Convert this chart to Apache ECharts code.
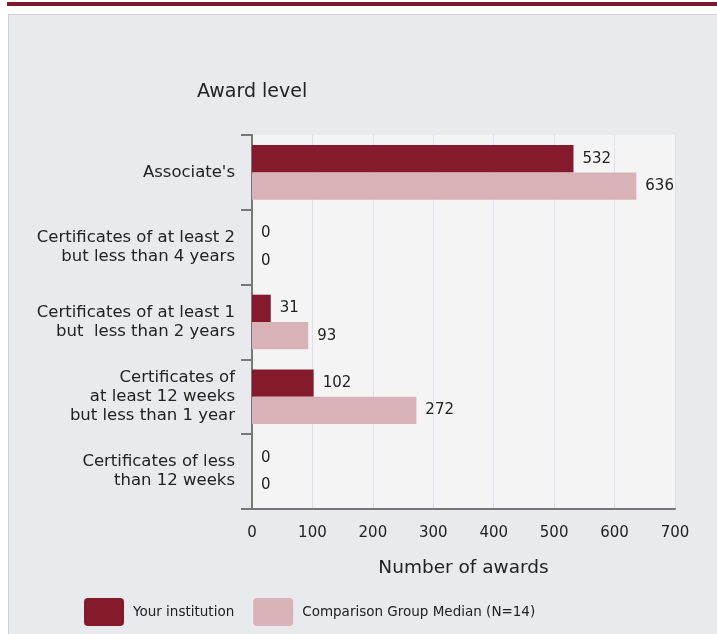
<!DOCTYPE html>
<html><head><meta charset="utf-8">
<script src="https://cdn.jsdelivr.net/npm/echarts@6/dist/echarts.min.js"></script>
<style>html,body{margin:0;padding:0;background:#fff}#c{width:717px;height:634px}</style>
</head><body><div id="c"></div>
<script>
const categories = ["Associate's", "Certificates of at least 2\nbut less than 4 years", "Certificates of at least 1\nbut  less than 2 years", "Certificates of\nat least 12 weeks\nbut less than 1 year", "Certificates of less\nthan 12 weeks"];
const yourInstitution = [532, 0, 31, 102, 0];
const comparisonMedian = [636, 0, 93, 272, 0];
const seriesNames = ["Your institution", "Comparison Group Median (N=14)"];
const xTicks = [0, 100, 200, 300, 400, 500, 600, 700];

const F = '"DejaVu Sans", Verdana, sans-serif';
const TXT = '#222222';
const swatch = 'path://M4,0 L36,0 Q40,0 40,4 L40,24 Q40,28 36,28 L4,28 Q0,28 0,24 L0,4 Q0,0 4,0 Z';
const chart = echarts.init(document.getElementById('c'), null, {renderer: 'canvas'});
chart.setOption({
  backgroundColor: '#ffffff',
  animation: false,
  graphic: [
    {type: 'rect', z: -10, shape: {x: 7, y: 2, width: 710, height: 4}, style: {fill: '#7f1a2b'}},
    {type: 'rect', z: -10, shape: {x: 8, y: 14, width: 709, height: 620}, style: {fill: '#e9eaee'}},
    {type: 'rect', z: -9, shape: {x: 8, y: 14, width: 709, height: 1}, style: {fill: '#d2d2d4'}},
    {type: 'rect', z: -9, shape: {x: 8, y: 14, width: 1, height: 620}, style: {fill: '#d2d2d4'}}
  ],
  title: {text: 'Award level', left: 192, top: 78,
    textStyle: {fontFamily: F, fontSize: 19, fontWeight: 'normal', color: TXT}},
  legend: {
    left: 79, top: 593, itemWidth: 40, itemHeight: 28, itemGap: 19, icon: swatch,
    textStyle: {fontFamily: F, fontSize: 13.5, color: TXT, padding: [0, 0, 0, 4]},
    data: seriesNames
  },
  grid: {left: 252, right: 42, top: 135, bottom: 125, show: true, backgroundColor: '#f4f4f5', borderWidth: 0},
  xAxis: {
    type: 'value', min: xTicks[0], max: xTicks[xTicks.length - 1], interval: 100,
    name: 'Number of awards', nameLocation: 'middle', nameGap: 50,
    nameTextStyle: {fontFamily: F, fontSize: 18.5, color: TXT},
    axisLine: {show: true, lineStyle: {color: '#777', width: 2}},
    axisTick: {show: false},
    axisLabel: {margin: 17, fontFamily: F, fontSize: 15, color: TXT},
    splitLine: {show: true, lineStyle: {color: '#dde0ea', width: 1}}
  },
  yAxis: {
    type: 'category', data: categories, inverse: true,
    axisLine: {show: true, lineStyle: {color: '#777', width: 2}},
    axisTick: {show: true, length: 11, interval: 0, lineStyle: {color: '#777', width: 2}},
    axisLabel: {margin: 17, interval: 0, fontFamily: F, fontSize: 16.5, lineHeight: 19, color: TXT, align: 'right'},
    splitLine: {show: false}
  },
  series: [
    {name: seriesNames[0], type: 'bar', data: yourInstitution, barGap: '0%', barCategoryGap: '27%',
      itemStyle: {color: '#861a2d'},
      label: {show: true, position: 'right', distance: 9, fontFamily: F, fontSize: 15, color: TXT}},
    {name: seriesNames[1], type: 'bar', data: comparisonMedian, barGap: '0%', barCategoryGap: '27%',
      itemStyle: {color: '#d9b2b8'},
      label: {show: true, position: 'right', distance: 9, fontFamily: F, fontSize: 15, color: TXT}}
  ]
});
</script></body></html>
